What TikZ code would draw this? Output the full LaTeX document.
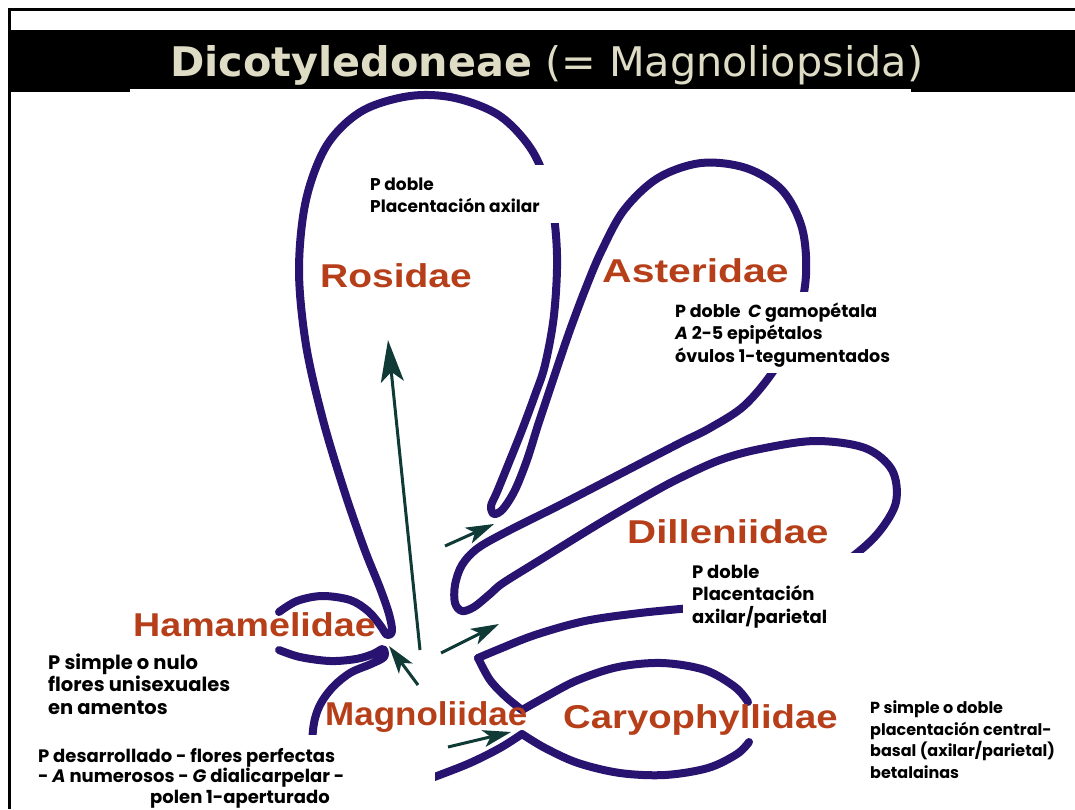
\documentclass[tikz,border=0pt]{standalone}
\usepackage{fontspec}
\usetikzlibrary{arrows.meta}
\setmainfont{Liberation Sans}
\newfontfamily\titlefont{DejaVu Sans}
\newfontfamily\notefont{Poppins}
\definecolor{curve}{RGB}{40,20,112}
\definecolor{lab}{RGB}{182,62,25}
\definecolor{arr}{RGB}{15,58,54}
\definecolor{titlec}{RGB}{222,220,196}
\begin{document}
\begin{tikzpicture}[x=1pt,y=-1pt,
  outline/.style={draw=curve, line width=8pt, line cap=round, line join=round},
  sub/.style={text=lab, font=\bfseries\fontsize{33}{33}\selectfont, anchor=base west, inner sep=0pt},
  note/.style 2 args={font=\notefont\bfseries\fontsize{#1}{#2}\selectfont, anchor=base west, align=left, inner sep=0pt},
  notebox/.style={fill=white, draw=none},
  smallarrow/.style={draw=arr, line width=3pt, -{Stealth[length=28pt,width=17pt,inset=7pt]}},
  bigarrow/.style={draw=arr, line width=3pt, -{Stealth[length=42pt,width=23pt,inset=10pt]}},
]
\useasboundingbox (0,0) rectangle (1075,809);
\fill[white] (0,0) rectangle (1075,809);
% frame and title bar
\draw[line width=3pt] (9.5,809) -- (9.5,9) -- (1075,9);
\fill[black] (11,30) rectangle (1075,91.5);
\fill[white] (130,88.5) rectangle (911,95);
\node[anchor=base west, inner sep=0pt, text=titlec] (title) at (170,76)
  {\resizebox{753pt}{31pt}{\titlefont\textbf{Dicotyledoneae} (= Magnoliopsida)}};

% main outline: Hamamelidae top -> Rosidae -> Asteridae -> Dilleniidae -> corner
\draw[outline] plot[smooth,tension=0.55] coordinates {
 (279,612) (297,601) (322,596) (350,600) (368,611) (380,625) (387,635) (392,631) (389,614)
 (380,588) (364,548) (344,490) (323,420) (306,345) (299,270) (306,200) (327,145) (362,111)
 (410,96) (455,98) (500,116) (533,152) (551,200) (557,255) (554,315) (545,365) (535,395)
 (522,430) (508,465) (497,492) (491,506) (494,514) (503,509) (515,490) (527,460) (538,425)
 (548,395) (558,365) (570,330) (585,290) (601,252) (624,210) (658,178) (701,163) (746,168)
 (782,190) (802,228) (806,275) (797,322) (776,367) (745,405) (710,428) (680,443) (620,474)
 (560,505) (510,530) (478,548) (462,565) (455,585) (455,603) (462,611) (474,607) (490,594)
 (503,583) (540,560) (600,523) (650,494) (680,478) (720,460) (760,449) (815,441) (865,448)
 (892,470) (896,502) (879,532) (852,557) (812,584) (760,600) (700,607) (640,613) (585,621)
 (535,635) (497,650) (478,658)};
\draw[outline] plot[smooth,tension=0.55] coordinates {(478,658) (490,680) (506,697) (522,710)};
% Caryophyllidae top arc
\draw[outline] plot[smooth,tension=0.55] coordinates {(522,710) (547,696) (578,680) (618,667) (662,663) (705,670) (735,687) (748,702)};
% Hamamelidae bottom -> Magnoliidae left side
\draw[outline] plot[smooth,tension=0.55] coordinates {(279,650) (300,657) (330,661) (356,659) (373,654) (383,649) (384,657) (371,664) (350,673) (332,688) (319,707) (313,730) (312,770)};
% Magnoliidae bottom -> Caryophyllidae bottom arc
\draw[outline] plot[smooth,tension=0.55] coordinates {(400,790) (437,776) (470,763) (500,748) (522,734)};
\draw[outline] plot[smooth,tension=0.55] coordinates {(522,734) (545,748) (578,763) (620,773) (665,775) (708,768) (737,754) (749,742)};

% white boxes of the notes
\fill[notebox] (362,165) rectangle (563,223);
\fill[notebox] (655,292) rectangle (900,373);
\fill[notebox] (683,553) rectangle (865,640);
\fill[notebox] (12,735) rectangle (435,809);

% arrows
\coordinate (ra) at (420,650); \coordinate (rb) at (388,340);
\draw[bigarrow] (ra) -- (rb);
\coordinate (ha) at (418,685); \coordinate (hb) at (389,646);
\draw[smallarrow] (ha) -- (hb);
\coordinate (aa) at (445,546); \coordinate (ab) at (494,524);
\draw[smallarrow] (aa) -- (ab);
\coordinate (da) at (441,653); \coordinate (db) at (499,624);
\draw[smallarrow] (da) -- (db);
\coordinate (ca) at (448,747); \coordinate (cb) at (511,732);
\draw[smallarrow] (ca) -- (cb);

% subclass labels
\node[sub] (ros) at (320,287) {\scalebox{1.18}[1]{Rosidae}};
\node[sub] (ast) at (602,282) {\scalebox{1.24}[1]{Asteridae}};
\node[sub] (dil) at (627,543) {\scalebox{1.22}[1]{Dilleniidae}};
\node[sub] (ham) at (133,636) {\scalebox{1.14}[1]{Hamamelidae}};
\node[sub] (mag) at (325,725) {\scalebox{1.06}[1]{Magnoliidae}};
\node[sub] (car) at (563,728) {\scalebox{1.16}[1]{Caryophyllidae}};

% notes (anchor = baseline of the last line)
\node[note={17}{22}] (nros) at (370,212) {P doble\\Placentación axilar};
\node[note={17.5}{22.5}] (nast) at (675,362) {P doble\ \ \textit{C} gamopétala\\\textit{A} 2-5 epipétalos\\óvulos 1-tegumentados};
\node[note={18}{22.5}] (ndil) at (692,623) {P doble\\Placentación\\axilar/parietal};
\node[note={19.5}{22.5}] (nham) at (48,714) {P simple o nulo\\flores unisexuales\\en amentos};
\node[note={18}{20.5}] (nmag) at (38,803) {P desarrollado - flores perfectas\\- \textit{A} numerosos - \textit{G} dialicarpelar -\\\hspace*{112pt}polen 1-aperturado};
\node[note={16}{21.5}] (ncar) at (870,778) {P simple o doble\\placentación central-\\basal (axilar/parietal)\\betalainas};
\end{tikzpicture}
\end{document}
